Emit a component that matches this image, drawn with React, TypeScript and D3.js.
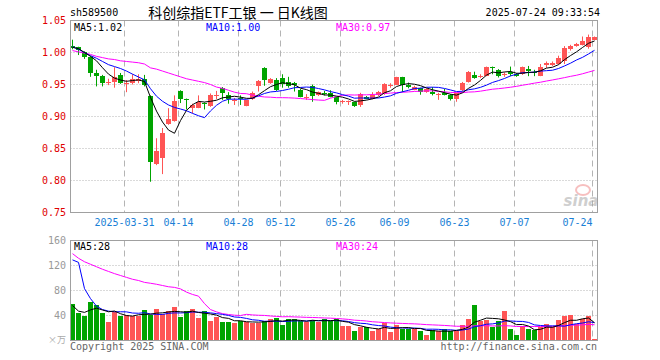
import React from "react";
import * as d3 from "d3";

// ---------- data ----------
const openP = [
  1.010, 1.008, 1.001, 0.993, 0.968, 0.963, 0.953, 0.954, 0.965, 0.952,
  0.952, 0.956, 0.958, 0.932, 0.826, 0.835, 0.889, 0.893, 0.940, 0.928,
  0.913, 0.914, 0.921, 0.916, 0.933, 0.945, 0.934, 0.924, 0.929, 0.917,
  0.928, 0.947, 0.976, 0.953, 0.957, 0.960, 0.954, 0.952, 0.942, 0.930,
  0.948, 0.933, 0.937, 0.937, 0.930, 0.923, 0.923, 0.922, 0.918, 0.931,
  0.928, 0.933, 0.935, 0.947, 0.950, 0.961, 0.949, 0.942, 0.944, 0.939,
  0.939, 0.934, 0.937, 0.934, 0.928, 0.942, 0.954, 0.965, 0.962, 0.964,
  0.978, 0.972, 0.966, 0.969, 0.967, 0.966, 0.974, 0.969, 0.964, 0.980,
  0.980, 0.982, 0.987, 1.005, 1.010, 1.012, 1.008, 1.020,
];
const highP = [
  1.020, 1.009, 1.002, 0.994, 0.973, 0.965, 0.959, 0.977, 0.968, 0.957,
  0.966, 0.966, 0.965, 0.933, 0.866, 0.882, 0.913, 0.933, 0.941, 0.928,
  0.920, 0.933, 0.922, 0.936, 0.940, 0.946, 0.938, 0.929, 0.933, 0.926,
  0.939, 0.957, 0.977, 0.960, 0.960, 0.966, 0.962, 0.954, 0.943, 0.935,
  0.950, 0.939, 0.940, 0.941, 0.931, 0.926, 0.925, 0.923, 0.937, 0.932,
  0.938, 0.940, 0.952, 0.952, 0.962, 0.962, 0.953, 0.948, 0.945, 0.944,
  0.946, 0.937, 0.943, 0.935, 0.937, 0.954, 0.971, 0.970, 0.966, 0.978,
  0.978, 0.974, 0.969, 0.978, 0.968, 0.978, 0.979, 0.973, 0.982, 0.986,
  0.986, 0.995, 1.010, 1.012, 1.015, 1.025, 1.028, 1.025,
];
const lowP = [
  1.005, 0.996, 0.990, 0.962, 0.947, 0.947, 0.949, 0.945, 0.951, 0.938,
  0.950, 0.952, 0.947, 0.798, 0.824, 0.810, 0.887, 0.892, 0.921, 0.911,
  0.905, 0.913, 0.911, 0.915, 0.927, 0.926, 0.920, 0.918, 0.918, 0.916,
  0.926, 0.939, 0.948, 0.951, 0.940, 0.945, 0.945, 0.939, 0.930, 0.926,
  0.923, 0.932, 0.933, 0.930, 0.919, 0.920, 0.918, 0.915, 0.915, 0.927,
  0.927, 0.932, 0.934, 0.945, 0.949, 0.938, 0.944, 0.941, 0.934, 0.937,
  0.933, 0.926, 0.933, 0.925, 0.923, 0.939, 0.953, 0.959, 0.960, 0.963,
  0.966, 0.961, 0.962, 0.963, 0.962, 0.965, 0.963, 0.963, 0.963, 0.976,
  0.979, 0.981, 0.982, 1.003, 1.009, 1.011, 1.006, 1.019,
];
const closeP = [
  1.007, 1.004, 0.993, 0.968, 0.963, 0.953, 0.954, 0.962, 0.953, 0.953,
  0.959, 0.959, 0.949, 0.829, 0.846, 0.874, 0.896, 0.924, 0.928, 0.926,
  0.918, 0.922, 0.919, 0.934, 0.934, 0.937, 0.928, 0.925, 0.927, 0.925,
  0.937, 0.956, 0.957, 0.958, 0.942, 0.951, 0.948, 0.949, 0.931, 0.931,
  0.932, 0.938, 0.936, 0.931, 0.922, 0.924, 0.924, 0.917, 0.935, 0.928,
  0.934, 0.938, 0.951, 0.950, 0.961, 0.949, 0.946, 0.946, 0.939, 0.943,
  0.935, 0.935, 0.934, 0.927, 0.936, 0.953, 0.970, 0.960, 0.963, 0.977,
  0.977, 0.964, 0.967, 0.967, 0.963, 0.977, 0.971, 0.968, 0.978, 0.984,
  0.984, 0.991, 1.007, 1.010, 1.013, 1.018, 1.024, 1.025,
];
const volume = [
  57.9, 43.7, 39.5, 61.0, 56.3, 43.7, 29.5, 45.3, 39.5, 41.6,
  39.5, 40.0, 48.4, 41.0, 50.0, 42.0, 46.8, 53.2, 37.9, 46.8,
  50.0, 36.3, 47.4, 31.6, 37.9, 30.0, 30.0, 28.4, 31.6, 30.0,
  28.4, 28.4, 31.0, 34.7, 36.3, 24.7, 34.7, 33.7, 31.6, 29.0,
  33.2, 30.0, 34.7, 31.6, 33.7, 23.2, 23.2, 15.3, 22.1, 22.1,
  15.3, 17.9, 27.4, 13.7, 24.7, 18.9, 18.9, 18.9, 15.3, 8.9,
  16.8, 15.3, 17.9, 15.8, 15.3, 24.7, 34.2, 56.3, 31.6, 32.6,
  22.1, 31.0, 46.8, 18.4, 8.9, 23.2, 18.4, 16.8, 22.1, 26.3,
  22.1, 32.6, 40.0, 41.0, 26.0, 34.0, 39.0, 2.5,
];

// moving-average values before a full window exists
const ma5Head = [1.008, 1.006, 1.0, 0.994];
const ma10Head = [1.009, 1.005, 1.0, 0.995, 0.991, 0.986, 0.981, 0.978, 0.975];
const ma30Head = [
  1.003, 1.001, 0.999, 0.997, 0.994, 0.992, 0.99, 0.989, 0.987, 0.986,
  0.985, 0.984, 0.982, 0.976, 0.974, 0.971, 0.968, 0.965, 0.962, 0.959,
  0.957, 0.955, 0.953, 0.95, 0.946, 0.944, 0.941, 0.938, 0.936,
];
const vma5Head = [56, 47, 45, 49];
const vma10Head = [129, 125, 83, 67, 55, 49.5, 47, 46, 46];
const vma30Head = [
  139, 131.6, 126, 122, 118, 114, 110.5, 107, 104, 101,
  98, 96, 93, 91.6, 90, 88, 86, 85, 82.6, 77.4,
  73.7, 71, 59, 49.5, 45.8, 43, 41.6, 40.5, 40,
];

const priceTicks = [1.05, 1.0, 0.95, 0.9, 0.85, 0.8, 0.75];
const volTicks = [160, 120, 80, 40];
const dateTickIdx = [9, 18, 28, 35, 45, 54, 64, 74, 87];
const dateTickLabels = ["2025-03-31", "04-14", "04-28", "05-12", "05-26", "06-09", "06-23", "07-07", "07-24"];

const priceLegend = ["MA5:1.02", "MA10:1.00", "MA30:0.97"];
const volLegend = ["MA5:28", "MA10:28", "MA30:24"];

// ---------- helpers ----------
function movingAvg(vals: number[], n: number, head: number[]) {
  return vals.map((_, i) =>
    i < head.length ? head[i] : (d3.mean(vals.slice(i - n + 1, i + 1)) as number)
  );
}

const MONO = "'DejaVu Sans Mono', monospace";
const RED = "#ff5555";
const GREEN = "#00a400";
const GRID = "#b4b4b4";
const BORDER = "#a0a0a0";

export default function App() {
  const n = closeP.length;
  const idx = d3.range(n);
  const x = d3.scaleBand<number>().domain(idx).range([70, 598]).paddingInner(0).paddingOuter(0);
  const y = d3.scaleLinear().domain([0.75, 1.05]).range([212.5, 20.5]);
  const yv = d3.scaleLinear().domain([0, 160]).range([340.5, 240.5]);

  const ma5 = movingAvg(closeP, 5, ma5Head);
  const ma10 = movingAvg(closeP, 10, ma10Head);
  const ma30 = movingAvg(closeP, 30, ma30Head);
  const vma5 = movingAvg(volume, 5, vma5Head);
  const vma10 = movingAvg(volume, 10, vma10Head);
  const vma30 = movingAvg(volume, 30, vma30Head);

  const cx = (i: number) => (x(i) as number) + 2.5;
  const pLine = (arr: number[]) =>
    d3.line<number>().x((_, i) => cx(i)).y((d) => y(d))(arr) || "";
  const vLine = (arr: number[]) =>
    d3.line<number>().x((_, i) => cx(i)).y((d) => yv(d))(arr) || "";

  const legendX = [74, 206, 336];
  const legendColors = ["#000", "#0000ff", "#ff00ff"];

  return (
    <svg width={660} height={360} style={{ display: "block", position: "absolute", left: 0, top: 0 }}
      fontFamily={MONO}>
      <rect x={0} y={0} width={660} height={360} fill="#fff" />

      {/* header */}
      <text x={70} y={16} fontSize={10} fill="#000">sh589500</text>
      <text x={238} y={18} fontSize={14} textAnchor="middle" fill="#000"
        fontFamily="'Noto Sans CJK SC', sans-serif">科创综指ETF工银 一 日K线图</text>
      <text x={600} y={16} fontSize={10} textAnchor="end" fill="#000">2025-07-24 09:33:54</text>

      {/* price grid */}
      {priceTicks.slice(1, -1).map((t) => (
        <line key={"pg" + t} x1={70.5} x2={597.5} y1={y(t)} y2={y(t)} stroke={GRID} strokeDasharray="1,2" />
      ))}
      {dateTickIdx.map((i) => (
        <line key={"vg" + i} x1={(x(i) as number) + 0.5} x2={(x(i) as number) + 0.5} y1={20.5} y2={212.5}
          stroke={GRID} strokeDasharray="6,4" />
      ))}
      {/* volume grid */}
      {volTicks.slice(1).map((t) => (
        <line key={"vgh" + t} x1={70.5} x2={597.5} y1={yv(t)} y2={yv(t)} stroke={GRID} strokeDasharray="1,2" />
      ))}
      {dateTickIdx.map((i) => (
        <line key={"vgv" + i} x1={(x(i) as number) + 0.5} x2={(x(i) as number) + 0.5} y1={240.5} y2={340.5}
          stroke={GRID} strokeDasharray="6,4" />
      ))}

      {/* sina watermark */}
      <g opacity={0.5}>
        <ellipse cx={583} cy={190} rx={7} ry={5} fill="none" stroke="#f08080" strokeWidth={2} />
        <text x={581} y={206} fontSize={15} fontStyle="italic" fontWeight="bold" textAnchor="middle"
          fill="#a0a0a0" fontFamily="'DejaVu Sans', sans-serif">sina</text>
      </g>

      {/* candles */}
      {idx.map((i) => {
        const o = openP[i], c = closeP[i];
        const up = c >= o;
        const col = up ? RED : GREEN;
        const bx = x(i) as number;
        const top = Math.round(y(Math.max(o, c)));
        const bot = Math.round(y(Math.min(o, c)));
        const h = Math.max(1, bot - top);
        return (
          <g key={"c" + i}>
            <line x1={bx + 2.5} x2={bx + 2.5} y1={y(highP[i])} y2={y(lowP[i])} stroke={col} />
            <rect x={bx} y={top} width={5} height={h} fill={col} />
          </g>
        );
      })}

      {/* price MAs */}
      <path d={pLine(ma30)} fill="none" stroke="#ff00ff" strokeWidth={1} />
      <path d={pLine(ma10)} fill="none" stroke="#0000ff" strokeWidth={1} />
      <path d={pLine(ma5)} fill="none" stroke="#000" strokeWidth={1} />

      {/* volume bars */}
      {idx.map((i) => {
        const up = closeP[i] >= openP[i];
        const top = Math.round(yv(volume[i]));
        return (
          <rect key={"v" + i} x={x(i) as number} y={top} width={5} height={Math.max(1, 340 - top)}
            fill={up ? RED : GREEN} />
        );
      })}
      <path d={vLine(vma30)} fill="none" stroke="#ff00ff" strokeWidth={1} />
      <path d={vLine(vma10)} fill="none" stroke="#0000ff" strokeWidth={1} />
      <path d={vLine(vma5)} fill="none" stroke="#000" strokeWidth={1} />

      {/* frames */}
      <rect x={70.5} y={20.5} width={527} height={192} fill="none" stroke={BORDER} />
      <rect x={70.5} y={240.5} width={527} height={100} fill="none" stroke={BORDER} />

      {/* legends */}
      {priceLegend.map((s, k) => (
        <text key={"pl" + k} x={legendX[k]} y={31} fontSize={10} fill={legendColors[k]}>{s}</text>
      ))}
      {volLegend.map((s, k) => (
        <text key={"vl" + k} x={legendX[k]} y={250} fontSize={10} fill={legendColors[k]}>{s}</text>
      ))}

      {/* price axis labels */}
      {priceTicks.map((t) => (
        <text key={"pt" + t} x={66} y={y(t) + 3.5} fontSize={10} textAnchor="end" fill="#e00000">
          {t.toFixed(2)}
        </text>
      ))}
      {/* volume axis labels */}
      {volTicks.map((t) => (
        <text key={"vt" + t} x={66} y={yv(t) + 3.5} fontSize={10} textAnchor="end" fill="#999">{t}</text>
      ))}
      <text x={57} y={343} fontSize={9} textAnchor="middle" fill="#aaa"
        fontFamily="'Noto Sans CJK SC', sans-serif">×万</text>

      {/* date labels */}
      {dateTickIdx.map((i, k) => {
        const last = k === dateTickIdx.length - 1;
        const px = (x(i) as number) + 0.5;
        return (
          <text key={"dl" + i} x={px} y={226} fontSize={10}
            textAnchor={last ? "end" : "middle"} fill="#1a7fd6">{dateTickLabels[k]}</text>
        );
      })}

      {/* footer */}
      <text x={70} y={350} fontSize={10} fill="#666">Copyright 2025 SINA.COM</text>
      <text x={597} y={350} fontSize={10} textAnchor="end" fill="#666">http://finance.sina.com.cn</text>
    </svg>
  );
}
